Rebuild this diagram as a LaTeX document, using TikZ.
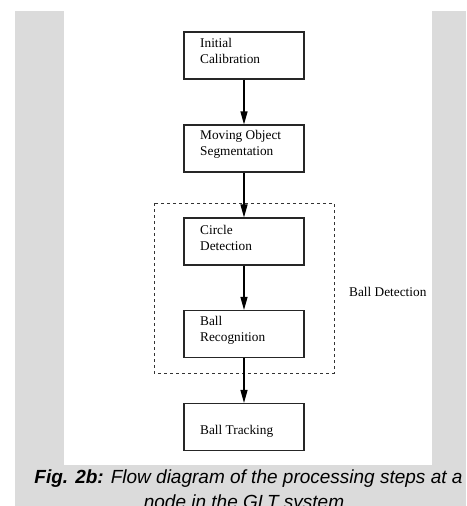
\documentclass[tikz,border=0pt]{standalone}
\usepackage{fontspec}
\setmainfont{Liberation Serif}
\newfontfamily\capfont{Liberation Sans}
\usetikzlibrary{arrows.meta}
\tikzset{
	stepbox/.style={draw=black!85, line width=1.1pt, minimum width=120pt, minimum height=47pt, inner sep=0pt},
	steptext/.style={anchor=west, align=left, inner sep=0pt, font=\fontsize{13.3}{16}\selectfont},
	flow/.style={line width=1.1pt, -{Triangle[length=13pt, width=7pt]}},
	captext/.style={anchor=base, inner sep=0pt, font=\capfont\itshape\fontsize{19}{25}\selectfont}
}

\begin{document}
\begin{tikzpicture}[x=1pt, y=-1pt]
			%%%%% START %%%%%
			
			\useasboundingbox (0, 0) rectangle (466, 506);
			\clip (0, 0) rectangle (466, 506);
			\fill[black!14] (15, 11) rectangle (466, 506);
			\fill[white] (64, 11) rectangle (432, 465);
			
			\node[stepbox] (calib) at (244, 55.5) {};
			\node[stepbox] (segm) at (244, 148.5) {};
			\node[stepbox] (circ) at (244, 241.5) {};
			\node[stepbox] (recog) at (244, 334) {};
			\node[stepbox] (track) at (244, 427) {};
			
			\node[steptext] (calibtext) at (200, 51) {Initial\\Calibration};
			\node[steptext] (segmtext) at (200, 144) {Moving Object\\Segmentation};
			\node[steptext] (circtext) at (200, 238) {Circle\\Detection};
			\node[steptext] (recogtext) at (200, 330) {Ball\\Recognition};
			\node[steptext] (tracktext) at (200, 431) {Ball Tracking};
			
			\draw[line width=1pt, dash pattern=on 3pt off 3pt, black!80] (154, 203) rectangle (334, 373);
			\node[steptext] (detect) at (349, 292) {Ball Detection};
			
			\draw[flow] (calib) -- (segm);
			\draw[flow] (segm) -- (circ);
			\draw[flow] (circ) -- (recog);
			\draw[flow] (recog) -- (track);
			
			\node[captext] (capline1) at (248.5, 483) {\textbf{Fig. 2b:} Flow diagram of the processing steps at a};
			\node[captext] (capline2) at (244, 508) {node in the GLT system};
			
			%%%%% END %%%%%
		\end{tikzpicture}
\end{document}
